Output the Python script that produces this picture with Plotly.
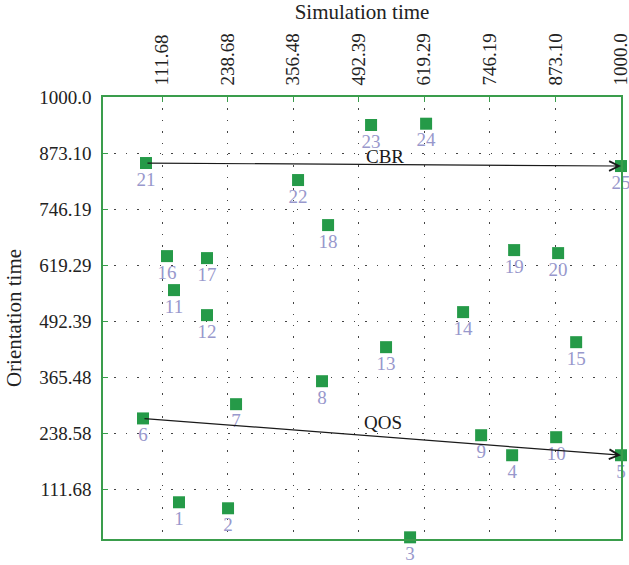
import plotly.graph_objects as go

# ---- data ----
point_ids = [str(i) for i in range(1, 26)]
sim_time = [144.6, 239.5, 591.8, 789.3, 1000.0, 74.9, 255.0, 421.4, 729.3, 874.5,
            134.9, 198.8, 545.3, 694.4, 913.2, 121.4, 198.8, 433.1, 793.2, 878.3,
            80.7, 375.0, 516.3, 622.8, 1000.0]
orient_time = [83.1, 69.5, 3.8, 189.5, 189.5, 272.8, 305.0, 357.0, 234.8, 230.3,
               563.1, 506.5, 434.0, 513.3, 445.3, 640.0, 635.5, 710.2, 653.6, 646.8,
               850.6, 812.1, 936.6, 939.6, 843.8]

x_tick_vals = [111.68, 238.58, 365.48, 492.39, 619.29, 746.19, 873.10, 1000.0]
x_tick_text = ["111.68", "238.68", "356.48", "492.39", "619.29", "746.19", "873.10", "1000.0"]
y_tick_vals = [111.68, 238.58, 365.48, 492.39, 619.29, 746.19, 873.10, 1000.0]
y_tick_text = ["111.68", "238.58", "365.48", "492.39", "619.29", "746.19", "873.10", "1000.0"]

# arrows: (label, start point id, end point id, label x, label y)
arrows = [("CBR", 21, 25, 542.8, 864.8), ("QOS", 6, 5, 539.5, 262.6)]

FONT = "Liberation Serif, Times New Roman, serif"
GREEN = "#259a48"
AXIS_GREEN = "#3a9d4c"
LABEL_COLOR = "#9898cc"

fig = go.Figure()
fig.add_trace(go.Scatter(
    x=sim_time, y=orient_time, mode="markers+text",
    text=point_ids, textposition="bottom center",
    textfont=dict(family=FONT, size=19, color=LABEL_COLOR),
    marker=dict(symbol="square", size=12, color=GREEN, line=dict(width=0)),
    cliponaxis=False, showlegend=False, hoverinfo="skip",
))

annotations = []
for name, s, e, lx, ly in arrows:
    annotations.append(dict(
        x=sim_time[e - 1], y=orient_time[e - 1], xref="x", yref="y",
        ax=sim_time[s - 1], ay=orient_time[s - 1], axref="x", ayref="y",
        text="", showarrow=True, arrowhead=5, arrowsize=1.6, arrowwidth=1.2,
        arrowcolor="#1a1a1a", standoff=0, startstandoff=0,
    ))
    annotations.append(dict(
        x=lx, y=ly, xref="x", yref="y", text=name, showarrow=False,
        font=dict(family=FONT, size=19, color="#1a1a1a"),
    ))

fig.update_layout(
    width=629, height=565,
    margin=dict(l=103, r=8, t=97, b=26, autoexpand=False),
    paper_bgcolor="white", plot_bgcolor="white",
    font=dict(family=FONT, size=19, color="#222222"),
    annotations=annotations,
    showlegend=False,
)

fig.update_xaxes(
    side="top", range=[-2.5, 1000], tickmode="array",
    tickvals=x_tick_vals, ticktext=x_tick_text, tickangle=-90,
    tickfont=dict(family=FONT, size=19, color="#222222"),
    ticks="inside", ticklen=5, tickcolor=AXIS_GREEN, tickwidth=1.2,
    ticklabelstandoff=6, ticklabeloverflow="allow", automargin=False,
    showline=True, linecolor=AXIS_GREEN, linewidth=1.5, mirror=True,
    showgrid=True, gridcolor="#444444", gridwidth=1.3, griddash="1.4px,10px",
    zeroline=False,
    title=dict(text="Simulation time", font=dict(family=FONT, size=21, color="#222222"), standoff=8),
)
fig.update_yaxes(
    range=[0, 1000], tickmode="array",
    tickvals=y_tick_vals, ticktext=y_tick_text,
    tickfont=dict(family=FONT, size=19, color="#222222"),
    ticks="inside", ticklen=5, tickcolor=AXIS_GREEN, tickwidth=1.2,
    ticklabelstandoff=6, ticklabeloverflow="allow", automargin=False,
    showline=True, linecolor=AXIS_GREEN, linewidth=1.5, mirror=True,
    showgrid=True, gridcolor="#444444", gridwidth=1.3, griddash="1.4px,10px",
    zeroline=False,
    title=dict(text="Orientation time", font=dict(family=FONT, size=21, color="#222222"), standoff=12),
)

fig.write_html("out.html")
